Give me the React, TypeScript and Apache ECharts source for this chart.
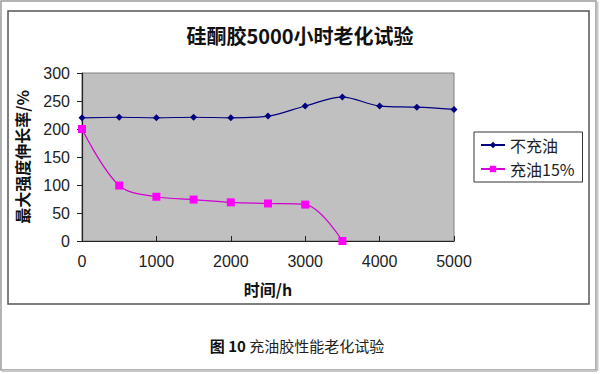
import React, { useEffect, useRef } from "react";
import * as echarts from "echarts";

const hours = [0, 500, 1000, 1500, 2000, 2500, 3000, 3500, 4000, 4500, 5000];
const noOil = [220, 221, 220, 221, 220, 223, 241, 257, 241, 239, 235];
const oilHours = [0, 500, 1000, 1500, 2000, 2500, 3000, 3500];
const oil15 = [200, 99, 79, 74, 69, 67, 65, 0];
const seriesNames = ["不充油", "充油15%"];
const titleText = "硅酮胶5000小时老化试验";
const xName = "时间/h";
const yName = "最大强度伸长率/%";

export default function App() {
  const ref = useRef<HTMLDivElement>(null);
  useEffect(() => {
    if (!ref.current) return;
    const chart = echarts.init(ref.current, null, { renderer: "svg" });
    chart.setOption({
      animation: false,
      backgroundColor: "#ffffff",
      title: {
        text: titleText,
        left: "center",
        top: 20,
        textStyle: {
          fontFamily: "Noto Sans CJK SC",
          fontWeight: "bold",
          fontSize: 20,
          color: "#111",
        },
      },
      graphic: [
        {
          type: "rect",
          shape: { x: 1, y: 1, width: 595, height: 369 },
          style: { fill: "none", stroke: "#9a9a9a", lineWidth: 1.5 },
          silent: true,
        },
        {
          type: "line",
          shape: { x1: 2, y1: 371, x2: 597, y2: 371 },
          style: { stroke: "#c8c8c8", lineWidth: 2 },
          silent: true,
        },
        {
          type: "line",
          shape: { x1: 597.5, y1: 2, x2: 597.5, y2: 371 },
          style: { stroke: "#c8c8c8", lineWidth: 2 },
          silent: true,
        },
        {
          type: "rect",
          shape: { x: 8, y: 11, width: 581, height: 293 },
          style: { fill: "none", stroke: "#555555", lineWidth: 1.5 },
          silent: true,
        },
        {
          type: "text",
          x: 297,
          y: 345,
          style: {
            text: "{b|图 10} {n|充油胶性能老化试验}",
            align: "center",
            verticalAlign: "middle",
            rich: {
              b: {
                fontFamily: "Noto Sans CJK SC",
                fontWeight: "bold",
                fontSize: 15,
                fill: "#111",
              },
              n: {
                fontFamily: "Noto Sans CJK SC",
                fontSize: 15,
                fill: "#222",
              },
            },
          },
          silent: true,
        },
      ],
      legend: {
        orient: "vertical",
        left: 474,
        top: 132,
        width: 108,
        padding: [4, 8, 4, 6],
        itemGap: 6,
        itemWidth: 24,
        itemHeight: 8,
        borderColor: "#333",
        borderWidth: 1,
        textStyle: {
          fontFamily: "Noto Sans CJK SC",
          fontSize: 16,
          lineHeight: 18,
          color: "#222",
        },
        data: seriesNames,
      },
      grid: {
        left: 82,
        right: 146,
        top: 73,
        bottom: 133,
        show: true,
        backgroundColor: "#c0c0c0",
        borderColor: "#808080",
        borderWidth: 1,
      },
      xAxis: {
        type: "value",
        min: 0,
        max: 5000,
        interval: 1000,
        name: xName,
        nameLocation: "middle",
        nameGap: 40,
        nameTextStyle: {
          fontFamily: "Noto Sans CJK SC",
          fontWeight: "bold",
          fontSize: 16,
          color: "#111",
        },
        axisLine: { show: true, lineStyle: { color: "#222", width: 1.2 } },
        axisTick: { show: true, inside: true, length: 5, lineStyle: { color: "#222" } },
        splitLine: { show: false },
        axisLabel: {
          margin: 12,
          formatter: (v: number) => String(v),
          fontFamily: "Liberation Sans",
          fontSize: 16,
          color: "#222",
        },
      },
      yAxis: {
        type: "value",
        min: 0,
        max: 300,
        interval: 50,
        name: yName,
        nameLocation: "middle",
        nameGap: 52,
        nameRotate: 90,
        nameTextStyle: {
          fontFamily: "Noto Sans CJK SC",
          fontWeight: "bold",
          fontSize: 16,
          color: "#111",
        },
        axisLine: { show: true, lineStyle: { color: "#222", width: 1.2 } },
        axisTick: { show: true, length: 5, lineStyle: { color: "#222" } },
        splitLine: { show: false },
        axisLabel: {
          margin: 12,
          fontFamily: "Liberation Sans",
          fontSize: 16,
          color: "#222",
        },
      },
      series: [
        {
          name: seriesNames[0],
          type: "line",
          data: hours.map((h, i) => [h, noOil[i]]),
          smooth: 0.35,
          symbol: "diamond",
          symbolSize: 7,
          itemStyle: { color: "#000080" },
          lineStyle: { color: "#000080", width: 1.2 },
        },
        {
          name: seriesNames[1],
          type: "line",
          data: oilHours.map((h, i) => [h, oil15[i]]),
          smooth: 0.35,
          symbol: "rect",
          symbolSize: 8,
          itemStyle: { color: "#ff00ff" },
          lineStyle: { color: "#d000d0", width: 1.2 },
        },
      ],
    });
    return () => chart.dispose();
  }, []);
  return (
    <div
      ref={ref}
      style={{ position: "fixed", left: 0, top: 0, width: 600, height: 374 }}
    />
  );
}
